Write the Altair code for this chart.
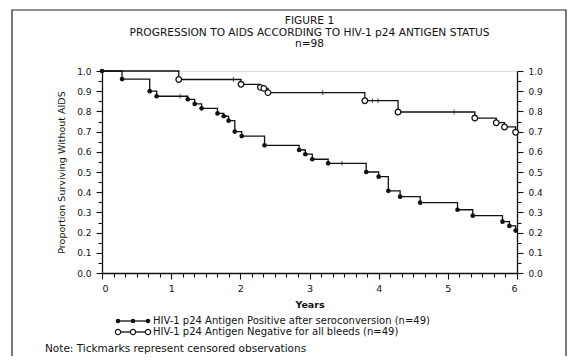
import altair as alt
import pandas as pd

# ---- data ----
POS = "HIV-1 p24 Antigen Positive after seroconversion (n=49)"
NEG = "HIV-1 p24 Antigen Negative for all bleeds (n=49)"

pos_time = [0, 0.29, 0.69, 0.79, 1.24, 1.34, 1.44, 1.67, 1.76, 1.83, 1.92, 2.02,
            2.35, 2.85, 2.94, 3.04, 3.27, 3.82, 4.00, 4.14, 4.31, 4.60, 5.14,
            5.36, 5.79, 5.89, 5.98]
pos_surv = [1.0, 0.96, 0.90, 0.875, 0.86, 0.837, 0.815, 0.79, 0.776, 0.754, 0.70,
            0.678, 0.632, 0.609, 0.588, 0.563, 0.543, 0.50, 0.477, 0.407, 0.378,
            0.348, 0.313, 0.284, 0.254, 0.233, 0.21]
pos_censored = [1.13, 3.47]

neg_time = [0, 1.11, 2.01, 2.29, 2.34, 2.40, 3.80, 4.28, 5.39, 5.70, 5.82, 5.98]
neg_surv = [1.0, 0.958, 0.934, 0.919, 0.914, 0.893, 0.853, 0.797, 0.767, 0.744,
            0.723, 0.697]
neg_censored = [1.90, 3.19, 3.91, 3.99, 5.09]

x_ticks = [i / 6 for i in range(37)]
y_ticks = [round(i * 0.05, 2) for i in range(21)]

title_lines = ["FIGURE 1", "PROGRESSION TO AIDS ACCORDING TO HIV-1 p24 ANTIGEN STATUS",
               "n=98"]
note_text = "Note: Tickmarks represent censored observations"

FONT = "DejaVu Sans"
INK = "#111111"


def surv_at(times, survs, t):
    s = survs[0]
    for ti, si in zip(times, survs):
        if ti <= t:
            s = si
    return s


pos_df = pd.DataFrame({"t": pos_time, "s": pos_surv, "g": POS})
neg_df = pd.DataFrame({"t": neg_time, "s": neg_surv, "g": NEG})
cens_df = pd.DataFrame(
    {"t": pos_censored + neg_censored,
     "s": [surv_at(pos_time, pos_surv, t) for t in pos_censored]
          + [surv_at(neg_time, neg_surv, t) for t in neg_censored]}
)

xscale = alt.Scale(domain=[0, 6], nice=False, zero=False)
yscale = alt.Scale(domain=[0, 1], nice=False)

x_major = "abs(datum.value - round(datum.value)) < 0.01"
y_major = "abs(datum.value * 10 - round(datum.value * 10)) < 0.01"

x_axis = alt.Axis(
    orient="bottom", values=x_ticks, title="Years",
    labelExpr=f"({x_major}) ? format(round(datum.value), 'd') : ''",
    tickSize={"condition": {"test": x_major, "value": 6}, "value": 4},
    titleFontWeight="bold", labelPadding=4, titlePadding=7, labelFontSize=9.5,
)


def y_axis(orient):
    return alt.Axis(
        orient=orient, values=y_ticks,
        title="Proportion Surviving Without AIDS" if orient == "left" else None,
        labelExpr=f"({y_major}) ? format(datum.value, '.1f') : ''",
        tickSize={"condition": {"test": y_major, "value": 6}, "value": 4},
        titleFontWeight="normal", labelPadding=5, titlePadding=10,
    )


def X():
    return alt.X("t:Q", scale=xscale, axis=x_axis)


def Y():
    return alt.Y("s:Q", scale=yscale, axis=y_axis("left"))


pos_line = alt.Chart(pos_df).mark_line(
    interpolate="step-after", color=INK, strokeWidth=1.3
).encode(x=X(), y=Y())
neg_line = alt.Chart(neg_df).mark_line(
    interpolate="step-after", color=INK, strokeWidth=1.3
).encode(x=X(), y=Y())
pos_pts = alt.Chart(pos_df).mark_point(
    filled=True, color=INK, size=22, opacity=1
).encode(x=X(), y=Y())
neg_pts = alt.Chart(neg_df[neg_df.t > 0]).mark_point(
    shape="circle", fill="white", stroke=INK, strokeWidth=1.3, size=32, opacity=1,
    filled=True,
).encode(x=X(), y=Y())
cens = alt.Chart(cens_df).mark_tick(
    orient="vertical", color=INK, size=5, thickness=1
).encode(x=X(), y=Y())

# invisible layer carrying the right axis
axes_right = alt.Chart(neg_df).mark_point(opacity=0).encode(
    y=alt.Y("s:Q", scale=yscale, axis=y_axis("right"))
)

one = pd.DataFrame({"a": [0]})

# frame around the figure
frame = alt.Chart(one).mark_rect(
    filled=False, stroke="#222222", strokeWidth=1.2
).encode(x=alt.value(-90), x2=alt.value(464), y=alt.value(-61), y2=alt.value(300))

# title lines
title_layers = [
    alt.Chart(one).mark_text(align="center", baseline="middle", font=FONT,
                             fontSize=10.6, color=INK, text=txt).encode(
        x=alt.value(207.5), y=alt.value(yy))
    for txt, yy in zip(title_lines, (-50, -38, -27))
]

# legend (key) glyphs and labels
legend_layers = []
for row_y, label, filled in [(250, POS, True), (261, NEG, False)]:
    legend_layers.append(
        alt.Chart(one).mark_rule(color=INK, strokeWidth=1.3).encode(
            x=alt.value(16), x2=alt.value(46), y=alt.value(row_y))
    )
    for px in (16, 31, 46):
        if filled:
            m = alt.Chart(one).mark_point(filled=True, color=INK, size=20, opacity=1)
        else:
            m = alt.Chart(one).mark_point(shape="circle", filled=True, fill="white",
                                          stroke=INK, strokeWidth=1.2, size=28,
                                          opacity=1)
        legend_layers.append(m.encode(x=alt.value(px), y=alt.value(row_y)))
    legend_layers.append(
        alt.Chart(one).mark_text(align="left", baseline="middle", font=FONT,
                                 fontSize=10, color=INK, text=label).encode(
            x=alt.value(51), y=alt.value(row_y))
    )

note = alt.Chart(one).mark_text(
    align="left", baseline="middle", font=FONT, fontSize=10.5, color=INK, text=note_text
).encode(x=alt.value(-57), y=alt.value(278))

inner = alt.layer(
    frame, pos_line, neg_line, cens, pos_pts, neg_pts, note,
    *title_layers, *legend_layers
)

chart = alt.layer(inner, axes_right).resolve_axis(y="independent").properties(
    width=415, height=202,
    autosize=alt.AutoSizeParams(type="none"),
    padding={"left": 94, "top": 63, "right": 50, "bottom": 83},
).configure_view(stroke=None).configure(background="white").configure_axis(
    grid=False, labelFont=FONT, titleFont=FONT, labelFontSize=9,
    titleFontSize=9.5, labelColor=INK, titleColor=INK, domainColor=INK,
    tickColor=INK, domainWidth=1.3, tickWidth=1.1, labelOverlap=False,
)

chart.save("out.html", embed_options={"renderer": "svg", "actions": False})
